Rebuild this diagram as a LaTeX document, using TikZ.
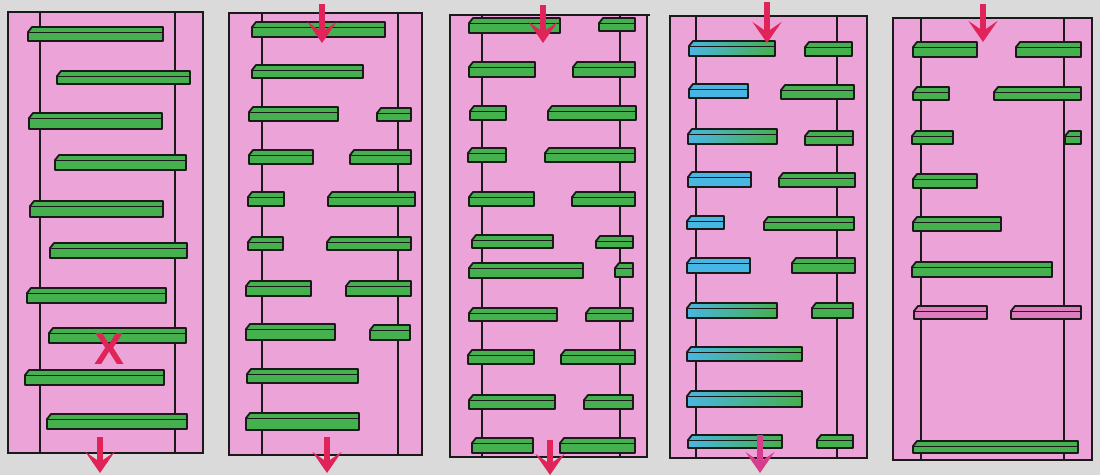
\documentclass[tikz,border=0pt]{standalone}
\usepackage{fontspec}
\usepackage{tikz}
\usepackage{xcolor}
\usetikzlibrary{arrows.meta}
\newfontfamily\markfont{Liberation Sans}
\definecolor{paper}{HTML}{DADADA}
\definecolor{cellpink}{HTML}{ECA4D8}
\definecolor{gelgreen}{HTML}{45B04E}
\definecolor{gelblue}{HTML}{48B6E2}
\definecolor{gelpink}{HTML}{DE7CC0}
\definecolor{arrowred}{HTML}{E02358}
\definecolor{arrowmag}{HTML}{D83C8C}
\definecolor{ink}{HTML}{1A1A1A}
\newcommand{\rung}[5][greenrung]{%
  \draw[#1] (#2,#5) -- (#2,#4+5) -- (#2+4,#4) -- (#3,#4) -- (#3,#5) -- cycle;
  \draw[rungline] (#2,#4+5) -- (#3,#4+5);}

\begin{document}
\begin{tikzpicture}[x=1pt,y=-1pt,
  cell/.style={fill=cellpink,draw=ink,line width=1.4pt},
  rail/.style={draw=ink,line width=1.2pt},
  greenrung/.style={fill=gelgreen,draw=ink,line width=1.8pt,line join=round},
  bluerung/.style={fill=gelblue,draw=ink,line width=1.8pt,line join=round},
  mixrung/.style={left color=gelblue,right color=gelgreen,draw=ink,line width=1.8pt,line join=round},
  pinkrung/.style={fill=gelpink,draw=ink,line width=1.8pt,line join=round},
  rungline/.style={draw=ink,line width=1pt},
  movearrow/.style={-{Stealth[length=21pt,width=29pt,inset=10pt]},line width=5.5pt,draw=#1},
  movearrow/.default=arrowred]
\useasboundingbox (0,0) rectangle (1100,475);
\fill[paper] (0,0) rectangle (1100,475);

\draw[cell] (8,12) rectangle (203,453);
\draw[rail] (40,12) -- (40,453);
\draw[rail] (175,12) -- (175,453);
\foreach \a/\b/\c/\d in {28/163/27/41,57/190/71/84,29/162/113/129,55/186/155/170,30/163/201/217,
  50/187/243/258,27/166/288/303,49/186/328/343,25/164/370/385,47/187/414/429}
  {\rung{\a}{\b}{\c}{\d}}
\node[text=arrowred,font=\markfont\bfseries\fontsize{45}{45}\selectfont,inner sep=0pt] (mark) at (110,349) {X};
\draw[movearrow] (100,437) -- (100,473);

\draw[cell] (229,13) rectangle (422,455);
\draw[rail] (262,13) -- (262,455);
\draw[rail] (398,13) -- (398,455);
\foreach \a/\b/\c/\d in {252/385/22/37,252/363/65/78,249/338/107/121,377/411/108/121,249/313/150/164,
  350/411/150/164,248/284/192/206,328/415/192/206,248/283/237/250,327/411/237/250,246/311/281/296,
  346/411/281/296,246/335/324/340,370/410/325/340,247/358/369/383,246/359/413/430}
  {\rung{\a}{\b}{\c}{\d}}
\draw[movearrow] (322,4) -- (322,43);
\draw[movearrow] (327,437) -- (327,473);

\draw[cell] (450,15) rectangle (647,457);
\draw[ink,line width=2.4pt] (453,15) -- (650,15);
\draw[rail] (482,15) -- (482,457);
\draw[rail] (620,15) -- (620,457);
\foreach \a/\b/\c/\d in {469/560/18/33,599/635/18/31,469/535/62/77,573/635/62/77,470/506/106/120,
  548/636/106/120,468/506/148/162,545/635/148/162,469/534/192/206,572/635/192/206,472/553/235/248,
  596/633/236/248,469/583/263/278,615/633/263/277,469/557/308/321,586/633/308/321,468/534/350/364,
  561/635/350/364,469/555/395/409,584/633/395/409,472/533/438/453,560/635/438/453}
  {\rung{\a}{\b}{\c}{\d}}
\draw[movearrow] (543,5) -- (543,43);
\draw[movearrow] (550,440) -- (550,475);

\draw[cell] (670,16) rectangle (867,458);
\draw[ink,line width=2.4pt] (670,16) -- (867,16);
\draw[rail] (696,16) -- (696,458);
\draw[rail] (837,16) -- (837,458);
\foreach \a/\b/\c/\d in {689/748/84/98,688/751/172/187,687/724/216/229,687/750/258/273}
  {\rung[bluerung]{\a}{\b}{\c}{\d}}
\foreach \a/\b/\c/\d in {689/775/41/56,688/777/129/144,687/777/303/318,687/802/347/361,
  687/802/391/407,688/782/435/448}
  {\rung[mixrung]{\a}{\b}{\c}{\d}}
\foreach \a/\b/\c/\d in {805/852/42/56,781/854/85/99,805/853/131/145,779/855/173/187,
  764/854/217/230,792/855/258/273,812/853/303/318,817/853/435/448}
  {\rung{\a}{\b}{\c}{\d}}
\draw[movearrow] (767,2) -- (767,43);
\draw[movearrow=arrowmag] (760,435) -- (760,473);

\draw[cell] (893,18) rectangle (1092,460);
\draw[ink,line width=2.4pt] (893,18) -- (1092,18);
\draw[rail] (921,18) -- (921,460);
\draw[rail] (1064,18) -- (1064,460);
\foreach \a/\b/\c/\d in {913/977/42/57,1016/1081/42/57,913/949/87/100,994/1081/87/100,912/953/131/144,
  1065/1081/131/144,913/977/174/188,913/1001/217/231,912/1052/262/277,913/1078/441/453}
  {\rung{\a}{\b}{\c}{\d}}
\rung[pinkrung]{914}{987}{306}{319}
\rung[pinkrung]{1011}{1081}{306}{319}
\draw[movearrow] (983,4) -- (983,42);
\end{tikzpicture}
\end{document}
